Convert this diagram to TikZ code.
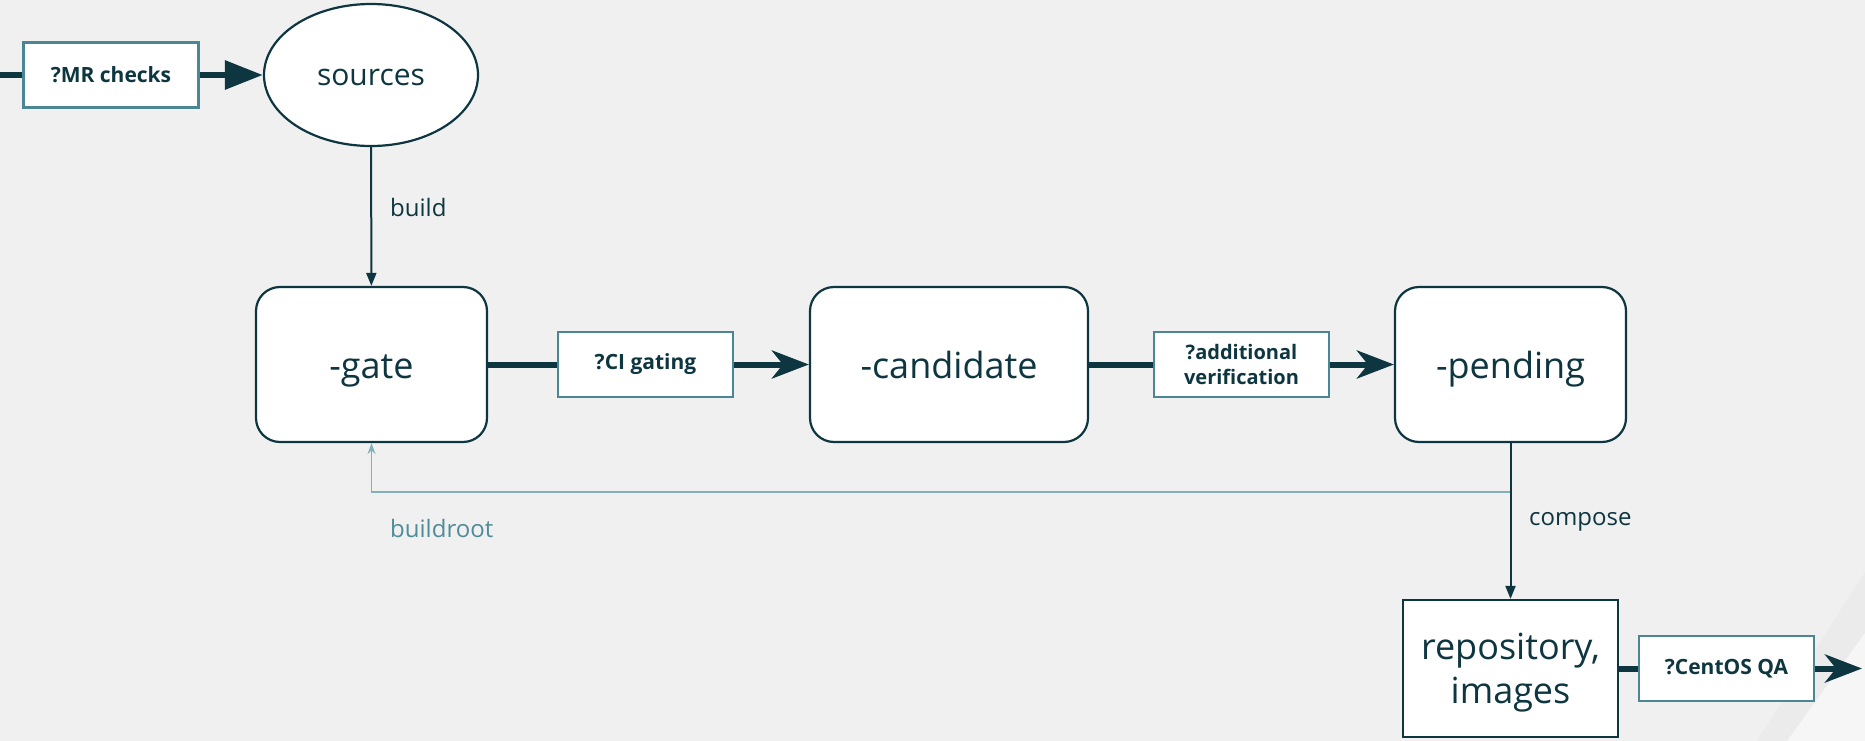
\documentclass[tikz,border=0pt]{standalone}
\usepackage{fontspec}
\setmainfont{Open Sans}
\usepackage{xcolor}
\usepackage{tikz}
\usetikzlibrary{arrows.meta,shapes.geometric}
\definecolor{ink}{HTML}{0E3640}
\definecolor{tealbox}{HTML}{4A8694}
\definecolor{fback}{HTML}{84B0B8}
\definecolor{fbtext}{HTML}{4F8C99}
\definecolor{bggrey}{HTML}{F0F0F0}

\begin{document}
\begin{tikzpicture}[x=1pt,y=-1pt,
  stagebox/.style={draw=ink,line width=2.2pt,fill=white,rounded corners=24pt,minimum width=231pt,minimum height=155pt,text=ink,text height=30pt,text depth=3pt,font=\fontsize{36}{44}\selectfont},
  checkbox/.style={draw=tealbox,line width=2.4pt,fill=white,minimum width=175pt,minimum height=65pt,inner sep=0pt,align=center,text=ink,font=\bfseries\fontsize{21}{25}\selectfont},
  flow/.style={draw=ink,line width=6pt},
  link/.style={draw=ink,line width=2pt,-{Triangle[length=13pt,width=10pt]}},
  feed/.style={draw=fback,line width=1.6pt,-{Stealth[length=11pt,width=8pt]}},
  lbl/.style={text=ink,anchor=west,inner sep=0pt,font=\fontsize{24}{28}\selectfont}]
\fill[bggrey] (0,0) rectangle (1865,741);
\fill[color={rgb,255:red,235;green,235;blue,235}] (1757,741) -- (1865,572) -- (1865,741) -- cycle;
\fill[color={rgb,255:red,246;green,246;blue,246}] (1787,741) -- (1865,633) -- (1865,741) -- cycle;
\useasboundingbox (0,0) rectangle (1865,741);

\coordinate (in) at (0,75);
\node[checkbox] (mr) at (111,75) {?MR checks};
\node[draw=ink,line width=2.2pt,fill=white,ellipse,minimum width=214pt,minimum height=142pt,text=ink,text height=22pt,text depth=0pt,font=\fontsize{30}{34}\selectfont] (sources) at (371,75) {sources};
\node[stagebox] (gate) at (371.5,364.5) {-gate};
\node[checkbox] (ci) at (645.5,364.5) {?CI gating};
\node[stagebox,minimum width=278pt] (cand) at (949,364.5) {-candidate};
\node[checkbox,font=\bfseries\fontsize{20}{25}\selectfont] (av) at (1241.5,364.5) {?additional\\verification};
\node[stagebox] (pend) at (1510.5,364.5) {-pending};
\node[draw=ink,line width=2.2pt,fill=white,minimum width=215pt,minimum height=137pt,align=center,text=ink,text depth=0pt,font=\fontsize{36}{44}\selectfont] (repo) at (1510.5,668.5) {repository,\\images};
\node[checkbox] (qa) at (1726.5,668.5) {?CentOS QA};
\coordinate (out) at (1862,668.5);

\draw[flow] (in) -- (mr);
\draw[flow,-{Triangle[length=38pt,width=28pt]}] (mr) -- (sources);
\draw[link] (sources) -- (gate);
\node[lbl] at (390,207) {build};
\draw[flow] (gate) -- (ci);
\draw[flow,-{Stealth[length=37pt,width=28pt,inset=11pt]}] (ci) -- (cand);
\draw[flow] (cand) -- (av);
\draw[flow,-{Stealth[length=37pt,width=28pt,inset=11pt]}] (av) -- (pend);
\coordinate (fb) at (pend.south |- 0,492);
\draw[feed] (fb) -| (gate.south);
\node[lbl,text=fbtext] at (390,528) {buildroot};
\draw[link] (pend) -- (repo);
\node[lbl] at (1529,522) {compose};
\draw[flow] (repo) -- (qa);
\draw[flow,-{Stealth[length=37pt,width=28pt,inset=11pt]}] (qa) -- (out);
\end{tikzpicture}
\end{document}
